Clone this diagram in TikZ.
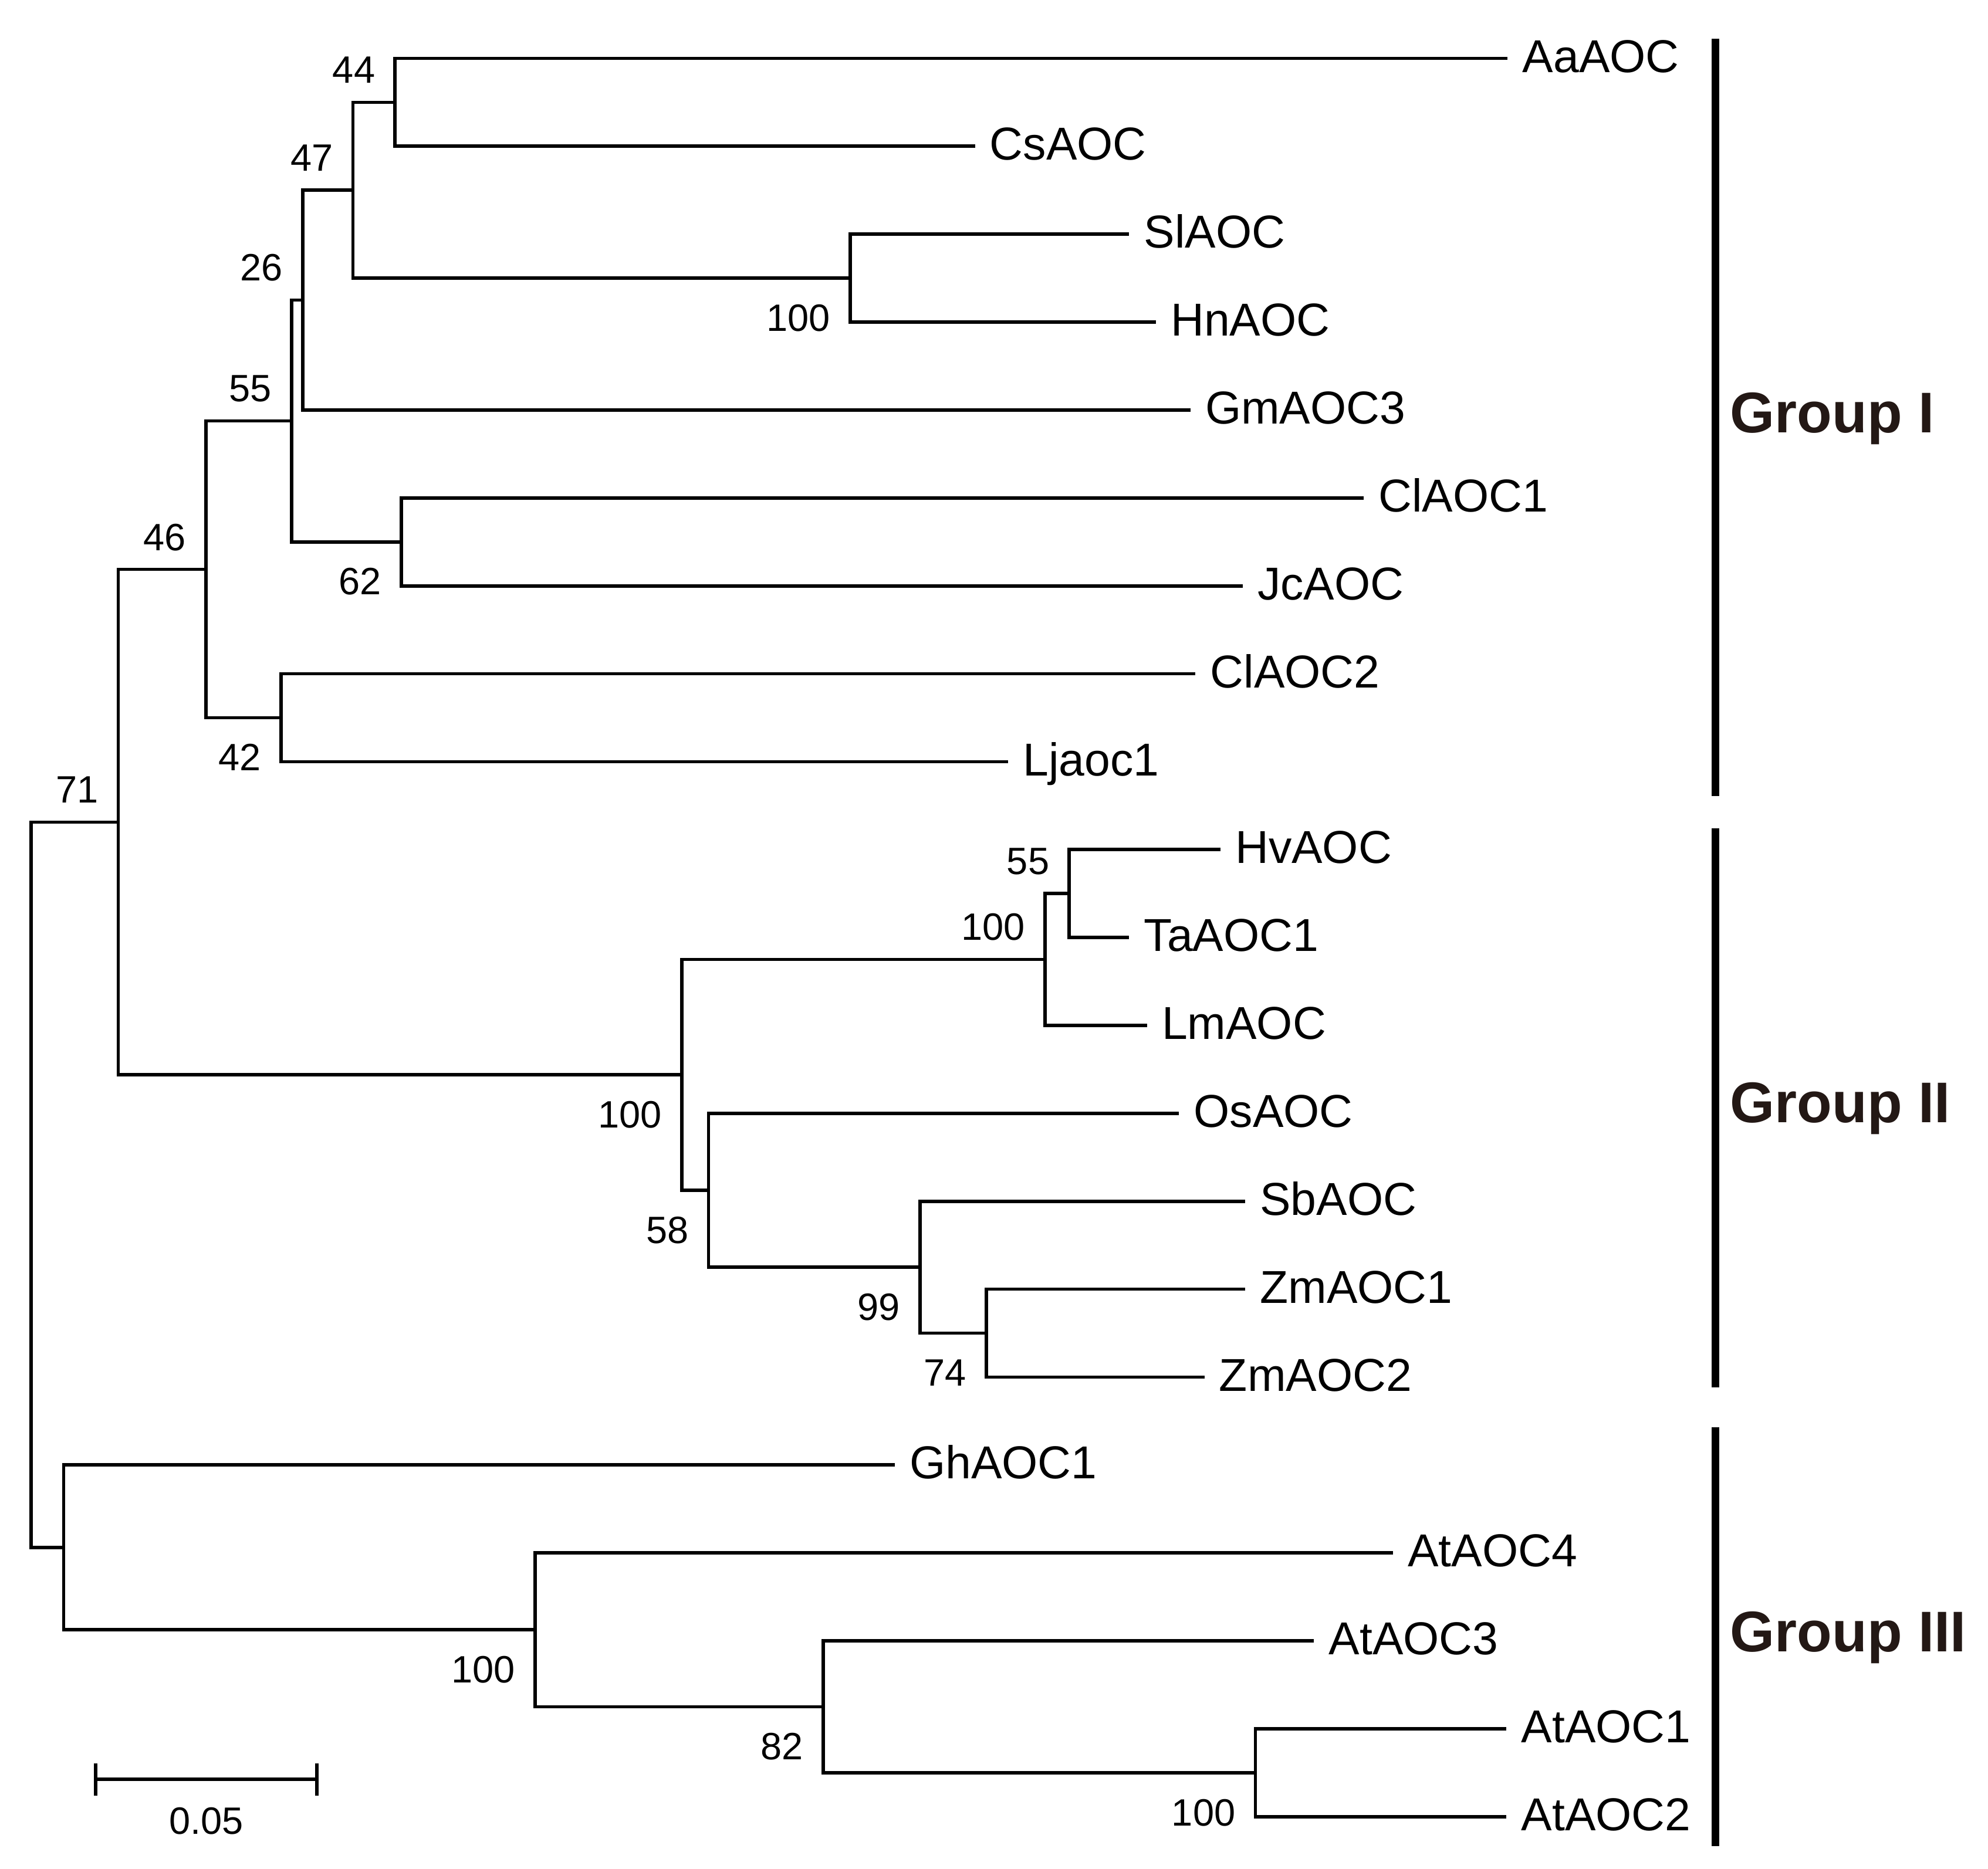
\documentclass[tikz,border=0pt]{standalone}
\usepackage{fontspec}
\setmainfont{Liberation Sans}
\definecolor{grpcol}{HTML}{231815}
\tikzset{
  branch/.style={line width=0.75pt},
  leaf/.style={anchor=base west, inner sep=0pt, xshift=0.11cm, yshift=-3.1pt, font=\fontsize{10.3}{12}\selectfont},
  bsabove/.style={anchor=base east, inner sep=0pt, xshift=-0.15cm, yshift=0.15cm, font=\fontsize{8.5}{10}\selectfont},
  bsbelow/.style={anchor=base east, inner sep=0pt, xshift=-0.15cm, yshift=-0.415cm, font=\fontsize{8.5}{10}\selectfont},
  grpbar/.style={line width=0.06cm},
  grplabel/.style={anchor=base west, inner sep=0pt, text=grpcol, font=\bfseries\fontsize{12.8}{15}\selectfont}
}
\begin{document}
\begin{tikzpicture}[x=0.01cm,y=-0.01cm]
\useasboundingbox (0,0) rectangle (1559.9,1466.9);

% branch tips
\coordinate (tAa)  at (1183,45.8);
\coordinate (tCs)  at (765,114.8);
\coordinate (tSl)  at (886,183.8);
\coordinate (tHn)  at (907,252.8);
\coordinate (tGm)  at (934,321.8);
\coordinate (tCl1) at (1070,390.8);
\coordinate (tJc)  at (975,459.8);
\coordinate (tCl2) at (938,528.8);
\coordinate (tLj)  at (791,597.8);
\coordinate (tHv)  at (957.6,666.8);
\coordinate (tTa)  at (886,735.8);
\coordinate (tLm)  at (900,804.8);
\coordinate (tOs)  at (925,873.8);
\coordinate (tSb)  at (977,942.8);
\coordinate (tZm1) at (977,1011.8);
\coordinate (tZm2) at (945,1080.8);
\coordinate (tGh)  at (702,1149.8);
\coordinate (tAt4) at (1093,1218.8);
\coordinate (tAt3) at (1031,1287.8);
\coordinate (tAt1) at (1182,1356.8);
\coordinate (tAt2) at (1182,1425.8);

% internal nodes
\coordinate (root)  at (24.3,929.9);
\coordinate (n71)   at (92.8,645.25);
\coordinate (n46)   at (161.5,446.9);
\coordinate (n55)   at (228.8,330.4);
\coordinate (n26)   at (237.5,235.55);
\coordinate (n47)   at (277,149.3);
\coordinate (n44)   at (310,80.3);
\coordinate (nSlHn) at (667,218.3);
\coordinate (n62)   at (315,425.3);
\coordinate (n42)   at (220.6,563.3);
\coordinate (nG2)   at (535,843.6);
\coordinate (n100b) at (820,753.05);
\coordinate (n55b)  at (839,701.3);
\coordinate (n58)   at (556,934.2);
\coordinate (n99)   at (722,994.55);
\coordinate (n74)   at (774,1046.3);
\coordinate (nGhAt) at (50,1214.5);
\coordinate (n100c) at (420,1279.2);
\coordinate (n82)   at (646,1339.55);
\coordinate (n100d) at (985,1391.3);

% tree
\draw[branch] (root) |- (n71) (root) |- (nGhAt);
\draw[branch] (n71) |- (n46) (n71) |- (nG2);
\draw[branch] (n46) |- (n55) (n46) |- (n42);
\draw[branch] (n55) |- (n26) (n55) |- (n62);
\draw[branch] (n26) |- (n47) (n26) |- (tGm);
\draw[branch] (n47) |- (n44) (n47) |- (nSlHn);
\draw[branch] (n44) |- (tAa) (n44) |- (tCs);
\draw[branch] (nSlHn) |- (tSl) (nSlHn) |- (tHn);
\draw[branch] (n62) |- (tCl1) (n62) |- (tJc);
\draw[branch] (n42) |- (tCl2) (n42) |- (tLj);
\draw[branch] (nG2) |- (n100b) (nG2) |- (n58);
\draw[branch] (n100b) |- (n55b) (n100b) |- (tLm);
\draw[branch] (n55b) |- (tHv) (n55b) |- (tTa);
\draw[branch] (n58) |- (tOs) (n58) |- (n99);
\draw[branch] (n99) |- (tSb) (n99) |- (n74);
\draw[branch] (n74) |- (tZm1) (n74) |- (tZm2);
\draw[branch] (nGhAt) |- (tGh) (nGhAt) |- (n100c);
\draw[branch] (n100c) |- (tAt4) (n100c) |- (n82);
\draw[branch] (n82) |- (tAt3) (n82) |- (n100d);
\draw[branch] (n100d) |- (tAt1) (n100d) |- (tAt2);

% leaf names
\node[leaf] (AaAOC)  at (tAa)  {AaAOC};
\node[leaf] (CsAOC)  at (tCs)  {CsAOC};
\node[leaf] (SlAOC)  at (tSl)  {SlAOC};
\node[leaf] (HnAOC)  at (tHn)  {HnAOC};
\node[leaf] (GmAOC3) at (tGm)  {GmAOC3};
\node[leaf] (ClAOC1) at (tCl1) {ClAOC1};
\node[leaf] (JcAOC)  at (tJc)  {JcAOC};
\node[leaf] (ClAOC2) at (tCl2) {ClAOC2};
\node[leaf] (Ljaoc1) at (tLj)  {Ljaoc1};
\node[leaf] (HvAOC)  at (tHv)  {HvAOC};
\node[leaf] (TaAOC1) at (tTa)  {TaAOC1};
\node[leaf] (LmAOC)  at (tLm)  {LmAOC};
\node[leaf] (OsAOC)  at (tOs)  {OsAOC};
\node[leaf] (SbAOC)  at (tSb)  {SbAOC};
\node[leaf] (ZmAOC1) at (tZm1) {ZmAOC1};
\node[leaf] (ZmAOC2) at (tZm2) {ZmAOC2};
\node[leaf] (GhAOC1) at (tGh)  {GhAOC1};
\node[leaf] (AtAOC4) at (tAt4) {AtAOC4};
\node[leaf] (AtAOC3) at (tAt3) {AtAOC3};
\node[leaf] (AtAOC1) at (tAt1) {AtAOC1};
\node[leaf] (AtAOC2) at (tAt2) {AtAOC2};

% bootstrap values
\node[bsabove] (b44)   at (n44)   {44};
\node[bsabove] (b47)   at (n47)   {47};
\node[bsabove] (b26)   at (n26)   {26};
\node[bsabove] (b55)   at (n55)   {55};
\node[bsbelow] (bSlHn) at (nSlHn) {100};
\node[bsbelow] (b62)   at (n62)   {62};
\node[bsabove] (b46)   at (n46)   {46};
\node[bsbelow] (b42)   at (n42)   {42};
\node[bsabove] (b71)   at (n71)   {71};
\node[bsabove] (b55b)  at (n55b)  {55};
\node[bsabove] (b100b) at (n100b) {100};
\node[bsbelow] (bG2)   at (nG2)   {100};
\node[bsbelow] (b58)   at (n58)   {58};
\node[bsbelow] (b99)   at (n99)   {99};
\node[bsbelow] (b74)   at (n74)   {74};
\node[bsbelow] (b100c) at (n100c) {100};
\node[bsbelow] (b82)   at (n82)   {82};
\node[bsbelow] (b100d) at (n100d) {100};

% scale bar
\coordinate (sbl) at (75.2,1396.6);
\coordinate (sbr) at (248.6,1396.6);
\draw[branch] (sbl) -- (sbr);
\draw[branch] (sbl) ++(0,-12.6) -- ++(0,25.3);
\draw[branch] (sbr) ++(0,-12.6) -- ++(0,25.3);
\node[anchor=base, inner sep=0pt, font=\fontsize{8.5}{10}\selectfont] (sblabel) at (162,1439.3) {0.05};

% groups
\draw[grpbar] (1346,30.4) -- (1346,624.9);
\draw[grpbar] (1346,650.2) -- (1346,1089);
\draw[grpbar] (1346,1120) -- (1346,1449);
\node[grplabel] (grp1) at (1357,339.5) {Group I};
\node[grplabel] (grp2) at (1357,880.8) {Group II};
\node[grplabel] (grp3) at (1357,1296.4) {Group III};
\end{tikzpicture}
\end{document}
